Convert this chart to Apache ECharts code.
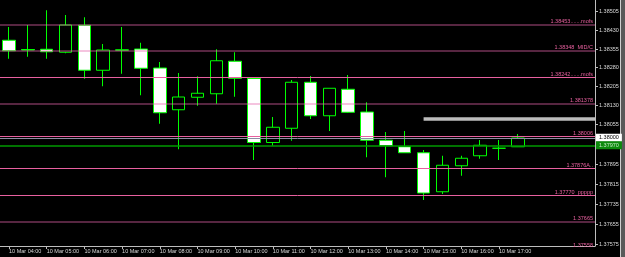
<!DOCTYPE html>
<html><head><meta charset="utf-8">
<script src="https://cdn.jsdelivr.net/npm/echarts@6/dist/echarts.min.js"></script>
<style>html,body{margin:0;padding:0;background:#000;}#c{width:625px;height:257px;}</style>
</head><body><div id="c"></div>
<script>
// ---- data ----
const times = ['04:00','04:30','05:00','05:30','06:00','06:30','07:00','07:30','08:00','08:30',
  '09:00','09:30','10:00','10:30','11:00','11:30','12:00','12:30','13:00','13:30',
  '14:00','14:30','15:00','15:30','16:00','16:30','17:00','17:30'];
const opens  = [1.38390,1.38353,1.38354,1.38342,1.38450,1.38270,1.38350,1.38355,1.38279,1.38112,
  1.38162,1.38176,1.38306,1.38237,1.37981,1.38038,1.38222,1.38088,1.38194,1.38103,
  1.37990,1.37964,1.37940,1.37784,1.37888,1.37928,1.37958,1.37964];
const closes = [1.38348,1.38351,1.38344,1.38451,1.38270,1.38351,1.38352,1.38278,1.38100,1.38163,
  1.38178,1.38308,1.38238,1.37981,1.38042,1.38222,1.38088,1.38198,1.38102,1.37990,
  1.37968,1.37940,1.37779,1.37890,1.37918,1.37970,1.37958,1.37999];
const lows   = [1.38316,1.38324,1.38316,1.38338,1.38236,1.38206,1.38256,1.38170,1.38056,1.37954,
  1.38128,1.38136,1.38164,1.37911,1.37968,1.37988,1.38075,1.38027,1.38099,1.37922,
  1.37842,1.37940,1.37751,1.37775,1.37848,1.37916,1.37911,1.37964];
const highs  = [1.38443,1.38451,1.38510,1.38491,1.38482,1.38375,1.38443,1.38380,1.38303,1.38259,
  1.38246,1.38354,1.38342,1.38237,1.38083,1.38231,1.38247,1.38198,1.38251,1.38142,
  1.38023,1.38027,1.37951,1.37928,1.37928,1.37991,1.37991,1.38015];

const xTickHours  = [4,5,6,7,8,9,10,11,12,13,14,15,16,17];
const xTickLabels = ['10 Mar 04:00','10 Mar 05:00','10 Mar 06:00','10 Mar 07:00','10 Mar 08:00',
  '10 Mar 09:00','10 Mar 10:00','10 Mar 11:00','10 Mar 12:00','10 Mar 13:00','10 Mar 14:00',
  '10 Mar 15:00','10 Mar 16:00','10 Mar 17:00'];
const yTickValues = [1.38505,1.38430,1.38355,1.38280,1.38205,1.38130,1.38055,1.37895,1.37815,1.37735,1.37655,1.37575];
const yTickLabels = ['1.38505','1.38430','1.38355','1.38280','1.38205','1.38130','1.38055','1.37895','1.37815','1.37735','1.37655','1.37575'];

const levelValues = [1.38453,1.38348,1.38242,1.38137,1.38006,1.37876,1.37770,1.37665,1.37558];
const levelLabels = ['1.38453.......mofs','1.38348  MID/C','1.38242.......mofs','1.381378','1.38006','1.37876A..','1.37770  ppppp','1.37665','1.37558'];
const priceLineValues = [1.38000, 1.37970];
const priceLineLabels = ['1.38000', '1.37970'];
const boxFromTime = '15:00';
const boxLow = 1.38068, boxHigh = 1.38082;

// ---- styles ----
const levelStyleKeys = ['dark','dark','pink','dark','pink','pink','pink','dark','pink'];
const lineStyles = {
  dark: {color:'rgba(230,100,170,0.38)', width:2},
  pink: {color:'#e8609f', width:1}
};
const FONT = 'Liberation Sans';
const LABEL_PINK = '#e8609f';
const toHour = t => { const [h,m] = t.split(':').map(Number); return h + m/60; };
const xMin = 3.7612, xMax = 19.548;
const yMin = 1.37567, yMax = 1.38551;

const candleData = times.map((t,i) => [toHour(t), opens[i], closes[i], lows[i], highs[i]]);

const visibleIdx = levelValues.map((v,i)=>i).filter(i => levelValues[i] >= yMin);
const hiddenIdx  = levelValues.map((v,i)=>i).filter(i => levelValues[i] < yMin);

const levelLines = visibleIdx.map(i => ({
  yAxis: levelValues[i],
  lineStyle: Object.assign({type:'solid'}, lineStyles[levelStyleKeys[i]]),
  label: {show:true, position:'insideEndTop', formatter: levelLabels[i], color:LABEL_PINK,
          fontSize:5.5, fontFamily:FONT, distance:[2,0]}
}));
const priceStyles = [
  {line:{color:'#8c8ca4', width:1}, label:{backgroundColor:'#ffffff', color:'#000000'}},
  {line:{color:'#009a00', width:1.5}, label:{backgroundColor:'#0c8a0c', color:'#c8e8c8'}}
];
const priceLines = priceLineValues.map((v,i) => ({
  yAxis: v,
  lineStyle: Object.assign({type:'solid'}, priceStyles[i].line),
  label: Object.assign({show:true, position:'end', formatter: priceLineLabels[i],
          fontSize:5.5, fontFamily:FONT, distance:1, padding:[1,3,1,3]}, priceStyles[i].label)
}));

const chart = echarts.init(document.getElementById('c'), null, {renderer:'canvas'});
chart.setOption({
  animation:false,
  backgroundColor:'#000000',
  grid:{left:0, right:30, top:0, bottom:11},
  xAxis:{
    type:'value', min:xMin, max:xMax, splitLine:{show:false},
    axisLine:{show:true, lineStyle:{color:'#bdbdbd', width:1}},
    axisTick:{show:true, customValues:xTickHours, length:3, lineStyle:{color:'#bdbdbd'}},
    axisLabel:{show:true, customValues:xTickHours, align:'left', margin:2, fontSize:5.5,
      fontFamily:FONT, color:'#d8d8d8',
      formatter: v => { const k = xTickHours.indexOf(Math.round(v)); return k >= 0 ? xTickLabels[k] : ''; }}
  },
  yAxis:{
    type:'value', position:'right', min:yMin, max:yMax, splitLine:{show:false},
    axisLine:{show:true, lineStyle:{color:'#bdbdbd', width:1}},
    axisTick:{show:true, customValues:yTickValues, length:3, lineStyle:{color:'#bdbdbd'}},
    axisLabel:{show:true, customValues:yTickValues, margin:4, fontSize:5.5, fontFamily:FONT, color:'#d8d8d8',
      formatter: v => { let k = -1; yTickValues.forEach((t,j)=>{ if (Math.abs(t-v) < 1e-7) k = j; }); return k >= 0 ? yTickLabels[k] : ''; }}
  },
  series:[
    {
      type:'candlestick', data:candleData, barWidth:13, z:2,
      itemStyle:{color:'#000000', color0:'#ffffff', borderColor:'#00ff00', borderColor0:'#00ff00',
                 borderColorDoji:'#00ff00', borderWidth:1}
    },
    {
      type:'line', data:[], z:5, silent:true, clip:false,
      markArea:{silent:true, itemStyle:{color:'#bcbcbc'},
        data:[[{xAxis:toHour(boxFromTime), yAxis:boxHigh},{xAxis:xMax, yAxis:boxLow}]]},
      markLine:{silent:true, symbol:'none', animation:false, precision:6, data: levelLines.concat(priceLines)}
    }
  ]
});

// labels of levels lying just below the plotted range (their lines fall under the axis)
const extraGraphics = [
  {type:'rect', shape:{x:620, y:0, width:5, height:257}, style:{fill:'#5a5a5a'}, silent:true},
  {type:'line', shape:{x1:620.5, y1:0, x2:620.5, y2:257}, style:{stroke:'#cfcfcf', lineWidth:1}, silent:true}
];
hiddenIdx.forEach(i => {
  const p = chart.convertToPixel({gridIndex:0}, [xMax, levelValues[i]]);
  extraGraphics.push({type:'text', silent:true, z:10,
    style:{x:p[0]-2, y:p[1], text:levelLabels[i], fill:LABEL_PINK, fontSize:5.5, fontFamily:FONT,
           align:'right', verticalAlign:'bottom'}});
});
chart.setOption({graphic: extraGraphics});
</script></body></html>
